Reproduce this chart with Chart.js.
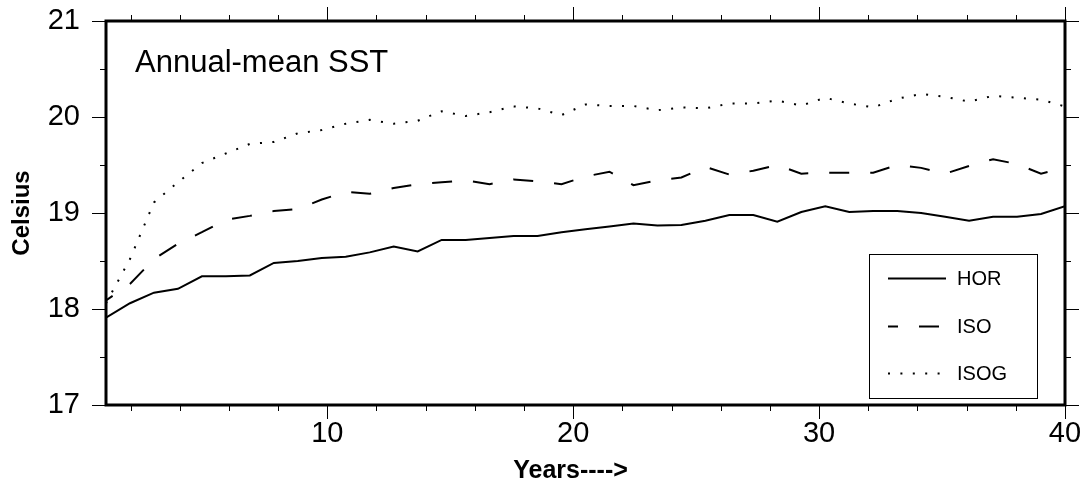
<!DOCTYPE html>
<html>
<head>
<meta charset="utf-8">
<title>Annual-mean SST</title>
<script src="https://cdn.jsdelivr.net/npm/chart.js@4.4.0/dist/chart.umd.min.js"></script>
<style>
  html, body { margin: 0; padding: 0; background: #fff; }
</style>
</head>
<body>
<canvas id="sst" width="1090" height="488"></canvas>
<script>
// 41 outputs spread over model years 1..40
const years = Array.from({length: 41}, (_, i) => 1 + i * 39 / 40);

const hor = [17.91, 18.06, 18.17, 18.21, 18.34, 18.34, 18.35, 18.48, 18.50, 18.53,
  18.545, 18.59, 18.65, 18.60, 18.72, 18.72, 18.74, 18.76, 18.76, 18.80,
  18.83, 18.86, 18.89, 18.87, 18.875, 18.92, 18.98, 18.98, 18.91, 19.01,
  19.07, 19.01, 19.02, 19.02, 19.00, 18.96, 18.92, 18.96, 18.96, 18.99, 19.07];

const iso = [18.09, 18.26, 18.52, 18.68, 18.80, 18.93, 18.97, 19.02, 19.04, 19.14,
  19.22, 19.20, 19.26, 19.30, 19.32, 19.34, 19.30, 19.35, 19.33, 19.30,
  19.38, 19.43, 19.29, 19.34, 19.37, 19.48, 19.40, 19.44, 19.50, 19.41,
  19.42, 19.42, 19.42, 19.50, 19.47, 19.41, 19.49, 19.56, 19.51, 19.41, 19.47];

const isog = [18.06, 18.52, 19.11, 19.32, 19.52, 19.62, 19.72, 19.74, 19.83, 19.865,
  19.93, 19.97, 19.93, 19.96, 20.06, 20.01, 20.05, 20.11, 20.09, 20.02,
  20.13, 20.115, 20.115, 20.07, 20.10, 20.09, 20.14, 20.14, 20.17, 20.12,
  20.20, 20.14, 20.10, 20.19, 20.24, 20.21, 20.16, 20.22, 20.20, 20.18, 20.11];

const xMajor = [10, 20, 30, 40];
const xMinor = [2, 4, 6, 8, 12, 14, 16, 18, 22, 24, 26, 28, 32, 34, 36, 38];
const yMajor = [17, 18, 19, 20, 21];
const yMinor = [17.5, 18.5, 19.5, 20.5];

const FONT = '"Liberation Sans", Arial, Helvetica, sans-serif';

function pts(vals) {
  return years.map((x, i) => ({x: x, y: vals[i]}));
}

//frame, outward ticks, titles and boxed legend
const framePlugin = {
  id: 'frame',
  afterDraw(chart) {
    const ctx = chart.ctx;
    const a = chart.chartArea;
    const sx = chart.scales.x, sy = chart.scales.y;
    ctx.save();
    ctx.strokeStyle = '#000';
    ctx.fillStyle = '#000';
    ctx.lineWidth = 1;
    ctx.beginPath();
    const xt = (v, len) => {
      const p = Math.round(sx.getPixelForValue(v)) + 0.5;
      ctx.moveTo(p, a.bottom); ctx.lineTo(p, a.bottom + len);
      ctx.moveTo(p, a.top); ctx.lineTo(p, a.top - len);
    };
    const yt = (v, len) => {
      const p = Math.round(sy.getPixelForValue(v)) + 0.5;
      ctx.moveTo(a.left, p); ctx.lineTo(a.left - len, p);
      ctx.moveTo(a.right, p); ctx.lineTo(a.right + len, p);
    };
    xMajor.forEach(v => xt(v, 14));
    xMinor.forEach(v => xt(v, 6));
    yMajor.forEach(v => yt(v, 14));
    yMinor.forEach(v => yt(v, 6));
    ctx.stroke();

    ctx.lineWidth = 3;
    ctx.strokeRect(a.left, a.top, a.right - a.left, a.bottom - a.top);

    ctx.font = '31px ' + FONT;
    ctx.textBaseline = 'alphabetic';
    ctx.textAlign = 'left';
    ctx.fillText('Annual-mean SST', a.left + 29, a.top + 51);

    // x axis label, sits a bit left of the axis centre
    ctx.font = 'bold 25px ' + FONT;
    ctx.textAlign = 'center';
    ctx.fillText('Years---->', (a.left + a.right) / 2 - 15, a.bottom + 73);

    // legend box
    const bx = a.right - 196, by = a.top + 233;
    const bw = 168, bh = a.bottom - 7 - by;
    ctx.lineWidth = 1;
    ctx.setLineDash([]);
    ctx.strokeRect(bx + 0.5, by + 0.5, bw, bh);
    const rows = [24, 72, 119];
    ctx.font = '20px ' + FONT;
    ctx.textAlign = 'left';
    ctx.textBaseline = 'middle';
    chart.data.datasets.forEach((ds, i) => {
      const ly = by + rows[i] + 0.5;
      ctx.save();
      ctx.lineWidth = ds.borderWidth;
      ctx.setLineDash(ds.borderDash || []);
      ctx.lineDashOffset = ds.legendDashOffset || 0;
      ctx.beginPath();
      ctx.moveTo(bx + 19, ly);
      ctx.lineTo(bx + 77, ly);
      ctx.stroke();
      ctx.restore();
      ctx.fillText(ds.label, bx + 88, ly + 1);
    });
    ctx.restore();
  }
};

const ctx = document.getElementById('sst');

new Chart(ctx, {
  type: 'line',
  data: {
    datasets: [
      {label: 'HOR', data: pts(hor), borderColor: '#000', borderWidth: 2,
        pointRadius: 0, tension: 0},
      {label: 'ISO', data: pts(iso), borderColor: '#000', borderWidth: 2,
        borderDash: [20, 21], borderDashOffset: 12, legendDashOffset: 10,
        pointRadius: 0, tension: 0},
      {label: 'ISOG', data: pts(isog), borderColor: '#000', borderWidth: 2,
        borderDash: [2, 10.4], legendDashOffset: 0,
        pointRadius: 0, tension: 0}
    ]
  },
  options: {
    responsive: false,
    devicePixelRatio: 1,
    animation: false,
    layout: {padding: {top: 21, right: 25, left: 0, bottom: 0}},
    plugins: {
      legend: {display: false},
      tooltip: {enabled: false}
    },
    scales: {
      x: {
        type: 'linear',
        min: 1,
        max: 40,
        afterBuildTicks: s => { s.ticks = xMajor.map(v => ({value: v})); },
        afterFit: s => {
          s.height = 83;
          s.paddingLeft = 0;
          s.paddingRight = 0;
        },
        grid: {display: false, drawTicks: false},
        border: {display: false},
        ticks: {color: '#000', font: {family: FONT, size: 29}, padding: 12,
          maxRotation: 0, autoSkip: false}
      },
      y: {
        min: 17,
        max: 21,
        afterBuildTicks: s => { s.ticks = yMajor.map(v => ({value: v})); },
        afterFit: s => {
          s.width = 106;
          s.paddingTop = 0;
          s.paddingBottom = 0;
        },
        grid: {display: false, drawTicks: false},
        border: {display: false},
        ticks: {color: '#000', font: {family: FONT, size: 29}, padding: 26},
        title: {display: true, text: 'Celsius', color: '#000',
          font: {family: FONT, size: 24, weight: 'bold'},
          padding: {top: 8, bottom: 0}}
      }
    }
  },
  plugins: [framePlugin]
});
</script>
</body>
</html>
